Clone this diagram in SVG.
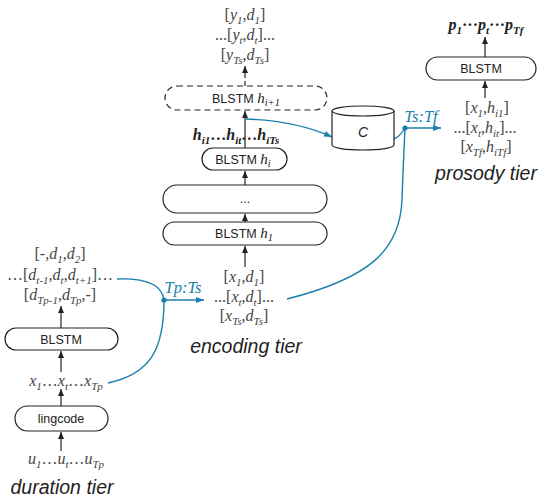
<svg xmlns="http://www.w3.org/2000/svg" width="538" height="500" viewBox="0 0 538 500">
<style>
.m{font-family:"Liberation Serif",serif;font-size:16px;fill:#444;text-anchor:middle}
.i{font-style:italic}
.s{font-size:11px;font-style:italic}
.hs{font-family:"Liberation Serif",serif;font-size:15px;font-style:italic}
.hss{font-family:"Liberation Serif",serif;font-size:10.5px;font-style:italic}
.b{font-weight:bold;fill:#222}
.lbl{font-family:"Liberation Sans",Arial,sans-serif;font-size:12.5px;fill:#222;text-anchor:middle}
.tier{font-family:"Liberation Sans",Arial,sans-serif;font-size:19.5px;font-style:italic;fill:#222;text-anchor:middle}
.box{fill:#fff;stroke:#222;stroke-width:1.2}
.ln{fill:none;stroke:#222;stroke-width:1.2}
.bl{fill:none;stroke:#1b7fae;stroke-width:1.4}
.bt{font-family:"Liberation Serif",serif;font-size:16.5px;font-style:italic;fill:#1b7fae;text-anchor:middle}
</style>
<defs>
<marker id="ah" markerWidth="8" markerHeight="8" refX="7" refY="4" orient="auto" markerUnits="userSpaceOnUse"><path d="M0,1 L7,4 L0,7 Z" fill="#222"/></marker>
<marker id="ahb" markerWidth="9" markerHeight="8" refX="8" refY="4" orient="auto" markerUnits="userSpaceOnUse"><path d="M0,1 L8,4 L0,7 Z" fill="#1b7fae"/></marker>
</defs>

<g id="connectors">
<path class="ln" d="M61,328 V306" marker-end="url(#ah)"/>
<path class="ln" d="M61,372 V351" marker-end="url(#ah)"/>
<path class="ln" d="M61,406 V389" marker-end="url(#ah)"/>
<path class="ln" d="M61,451 V432" marker-end="url(#ah)"/>
<path class="ln" d="M245,267 V246" marker-end="url(#ah)"/>
<path class="ln" d="M245,222 V214" marker-end="url(#ah)"/>
<path class="ln" d="M245,185 V171" marker-end="url(#ah)"/>
<path class="ln" d="M245,148 V111" marker-end="url(#ah)"/>
<path class="ln" d="M245,86 V66" stroke-dasharray="5,3" marker-end="url(#ah)"/>
<path class="ln" d="M485,98 V81" marker-end="url(#ah)"/>
<path class="ln" d="M485,57 V37" marker-end="url(#ah)"/>
<path class="bl" d="M117,279 C145,278 162,285 164,300"/>
<path class="bl" d="M108,383 C150,374 164,350 164,300"/>
<path class="bl" d="M164,300 H204" marker-end="url(#ahb)"/>
<path class="bl" d="M287,299 C370,278 400,250 402,200 C403,170 404,150 405,128"/>
<path class="bl" d="M394,139 C399,137 402,133 405,128"/>
<path class="bl" d="M405,128 H441" marker-end="url(#ahb)"/>
<path class="bl" d="M246,119 C280,120 310,127 332,137" marker-end="url(#ahb)"/>
<circle cx="164" cy="300" r="2.6" fill="#1b7fae"/>
<circle cx="405" cy="128" r="2.6" fill="#1b7fae"/>
<text class="bt" x="183" y="293">Tp:Ts</text>
<text class="bt" x="421" y="122">Ts:Tf</text>
</g>

<g id="duration-tier">
<text class="m" x="60" y="259">[-,<tspan class="i">d</tspan><tspan class="s" dy="4">1</tspan><tspan dy="-4">,</tspan><tspan class="i">d</tspan><tspan class="s" dy="4">2</tspan><tspan dy="-4">]</tspan></text>
<text class="m" x="60" y="280">…[<tspan class="i">d</tspan><tspan class="s" dy="4">t-1</tspan><tspan dy="-4">,</tspan><tspan class="i">d</tspan><tspan class="s" dy="4">t</tspan><tspan dy="-4">,</tspan><tspan class="i">d</tspan><tspan class="s" dy="4">t+1</tspan><tspan dy="-4">]…</tspan></text>
<text class="m" x="60" y="300">[<tspan class="i">d</tspan><tspan class="s" dy="4">Tp-1</tspan><tspan dy="-4">,</tspan><tspan class="i">d</tspan><tspan class="s" dy="4">Tp</tspan><tspan dy="-4">,-]</tspan></text>
<g id="dur-blstm"><rect class="box" x="5" y="328" width="113" height="22" rx="11"/><text class="lbl" x="61" y="344">BLSTM</text></g>
<text class="m" x="66" y="386"><tspan class="i">x</tspan><tspan class="s" dy="4">1</tspan><tspan dy="-4">…</tspan><tspan class="i">x</tspan><tspan class="s" dy="4">t</tspan><tspan dy="-4">…</tspan><tspan class="i">x</tspan><tspan class="s" dy="4">Tp</tspan></text>
<g id="lingcode"><rect class="box" x="15" y="406" width="93" height="25" rx="12.5"/><text class="lbl" x="61" y="423">lingcode</text></g>
<text class="m" x="66" y="464"><tspan class="i">u</tspan><tspan class="s" dy="4">1</tspan><tspan dy="-4">…</tspan><tspan class="i">u</tspan><tspan class="s" dy="4">t</tspan><tspan dy="-4">…</tspan><tspan class="i">u</tspan><tspan class="s" dy="4">Tp</tspan></text>
<text class="tier" x="62" y="494">duration tier</text>
</g>

<g id="encoding-tier">
<text class="m" x="245" y="20">[<tspan class="i">y</tspan><tspan class="s" dy="4">1</tspan><tspan dy="-4">,</tspan><tspan class="i">d</tspan><tspan class="s" dy="4">1</tspan><tspan dy="-4">]</tspan></text>
<text class="m" x="245" y="40">...[<tspan class="i">y</tspan><tspan class="s" dy="4">t</tspan><tspan dy="-4">,</tspan><tspan class="i">d</tspan><tspan class="s" dy="4">t</tspan><tspan dy="-4">]...</tspan></text>
<text class="m" x="245" y="60">[<tspan class="i">y</tspan><tspan class="s" dy="4">Ts</tspan><tspan dy="-4">,</tspan><tspan class="i">d</tspan><tspan class="s" dy="4">Ts</tspan><tspan dy="-4">]</tspan></text>
<g id="blstm-hi1"><rect class="box" x="165" y="86" width="162" height="24" rx="12" stroke-dasharray="6,4"/><text class="lbl" x="246" y="103">BLSTM <tspan class="hs">h</tspan><tspan class="hss" dy="3">i+1</tspan></text></g>
<text class="m b" x="236" y="140"><tspan class="i">h</tspan><tspan class="s" dy="4">i1</tspan><tspan dy="-4">…</tspan><tspan class="i">h</tspan><tspan class="s" dy="4">it</tspan><tspan dy="-4">…</tspan><tspan class="i">h</tspan><tspan class="s" dy="4">iTs</tspan></text>
<g id="blstm-hi"><rect class="box" x="202" y="148" width="85" height="22" rx="11"/><text class="lbl" x="243" y="164">BLSTM <tspan class="hs">h</tspan><tspan class="hss" dy="3">i</tspan></text></g>
<g id="blstm-dots"><rect class="box" x="163" y="185" width="164" height="28" rx="14"/><text class="lbl" x="245" y="203">...</text></g>
<g id="blstm-h1"><rect class="box" x="163" y="222" width="164" height="23" rx="11.5"/><text class="lbl" x="244" y="238">BLSTM <tspan class="hs">h</tspan><tspan class="hss" dy="3">1</tspan></text></g>
<text class="m" x="244" y="282">[<tspan class="i">x</tspan><tspan class="s" dy="4">1</tspan><tspan dy="-4">,</tspan><tspan class="i">d</tspan><tspan class="s" dy="4">1</tspan><tspan dy="-4">]</tspan></text>
<text class="m" x="244" y="302">...[<tspan class="i">x</tspan><tspan class="s" dy="4">t</tspan><tspan dy="-4">,</tspan><tspan class="i">d</tspan><tspan class="s" dy="4">t</tspan><tspan dy="-4">]...</tspan></text>
<text class="m" x="244" y="321">[<tspan class="i">x</tspan><tspan class="s" dy="4">Ts</tspan><tspan dy="-4">,</tspan><tspan class="i">d</tspan><tspan class="s" dy="4">Ts</tspan><tspan dy="-4">]</tspan></text>
<text class="tier" x="246" y="353">encoding tier</text>
</g>

<g id="memory-c">
<path class="box" d="M332,111 V145 A31,5 0 0 0 394,145 V111"/>
<ellipse class="box" cx="363" cy="111" rx="31" ry="5"/>
<text class="lbl" x="363" y="137" style="font-size:14px;font-style:italic">C</text>
</g>

<g id="prosody-tier">
<text class="m b" x="486" y="30"><tspan class="i">p</tspan><tspan class="s" dy="4">1</tspan><tspan dy="-4">···</tspan><tspan class="i">p</tspan><tspan class="s" dy="4">t</tspan><tspan dy="-4">···</tspan><tspan class="i">p</tspan><tspan class="s" dy="4">Tf</tspan></text>
<g id="prosody-blstm"><rect class="box" x="426" y="57" width="110" height="23" rx="11.5"/><text class="lbl" x="481" y="73">BLSTM</text></g>
<text class="m" x="487" y="113">[<tspan class="i">x</tspan><tspan class="s" dy="4">1</tspan><tspan dy="-4">,</tspan><tspan class="i">h</tspan><tspan class="s" dy="4">i1</tspan><tspan dy="-4">]</tspan></text>
<text class="m" x="485" y="133">...[<tspan class="i">x</tspan><tspan class="s" dy="4">t</tspan><tspan dy="-4">,</tspan><tspan class="i">h</tspan><tspan class="s" dy="4">it</tspan><tspan dy="-4">]...</tspan></text>
<text class="m" x="486" y="152">[<tspan class="i">x</tspan><tspan class="s" dy="4">Tf</tspan><tspan dy="-4">,</tspan><tspan class="i">h</tspan><tspan class="s" dy="4">iTf</tspan><tspan dy="-4">]</tspan></text>
<text class="tier" x="486" y="180">prosody tier</text>
</g>
</svg>
